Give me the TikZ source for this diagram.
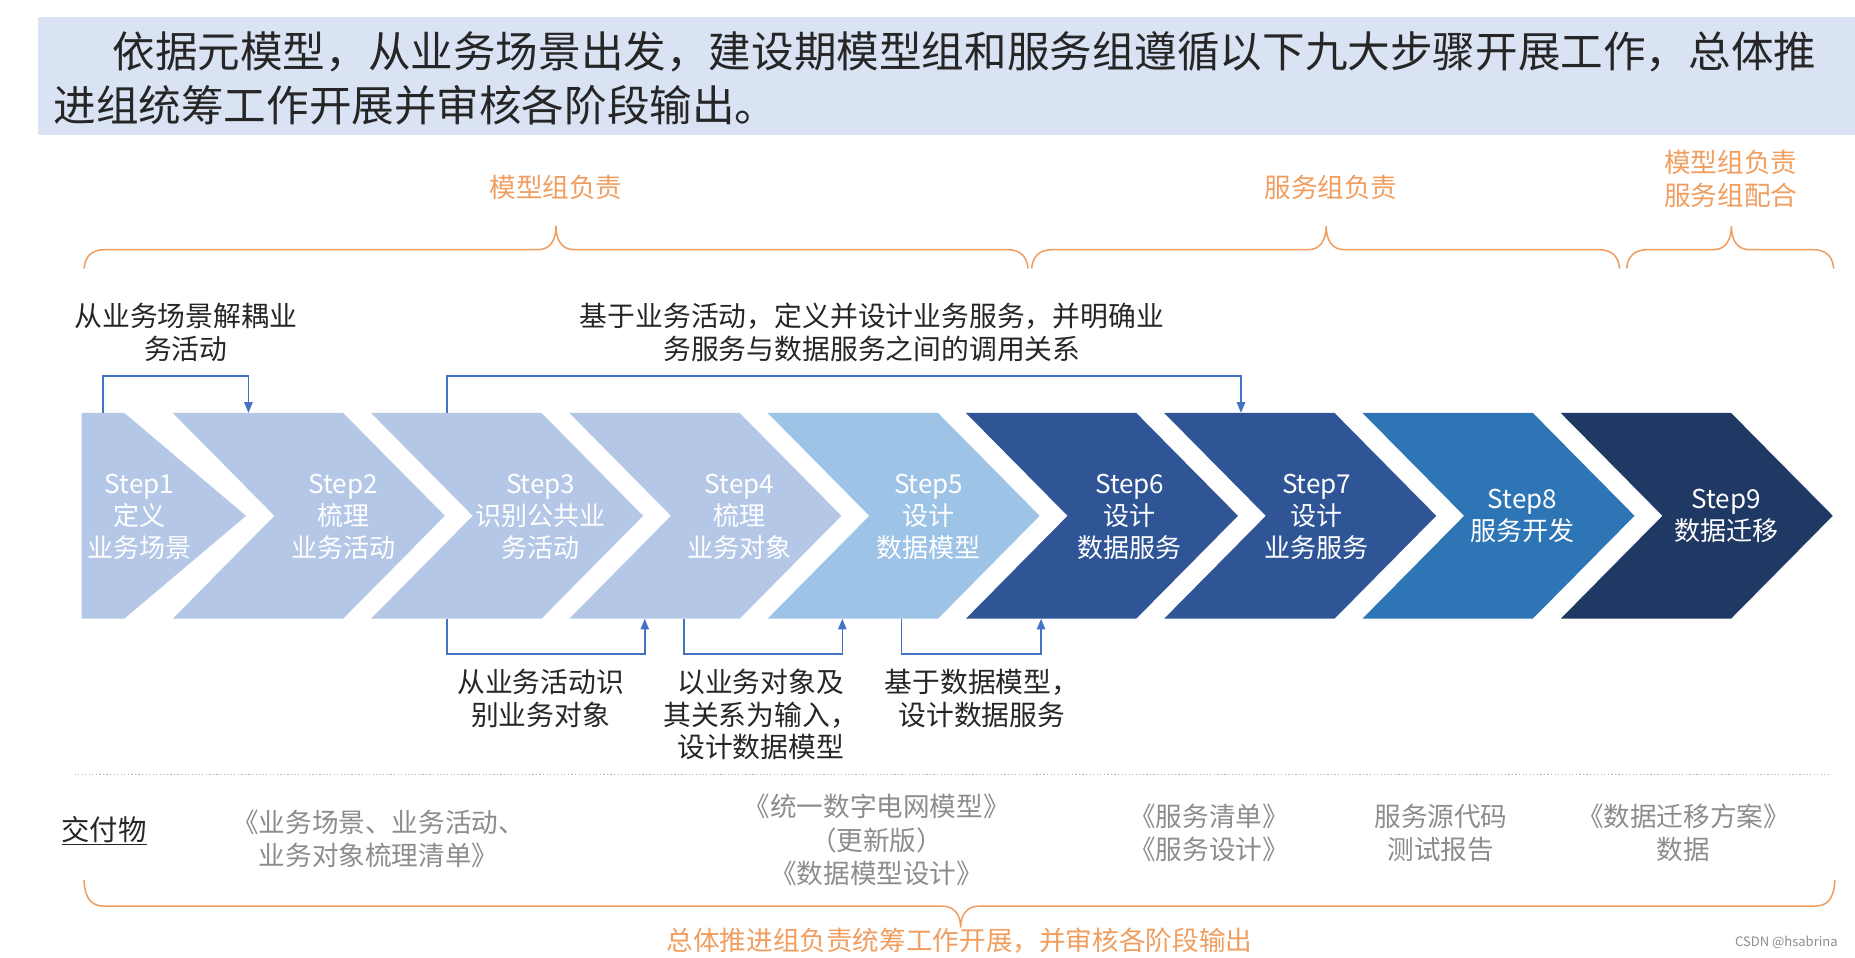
\documentclass[tikz,border=0pt]{standalone}
\usepackage{fontspec}
\setmainfont{Noto Sans CJK SC}
\usetikzlibrary{arrows.meta}
\definecolor{bannerC}{HTML}{DAE3F3}
\definecolor{orangeT}{RGB}{240,158,96}
\definecolor{connC}{HTML}{4472C4}
\definecolor{lightA}{HTML}{B4C7E7}
\definecolor{lightB}{HTML}{9DC3E6}
\definecolor{darkA}{HTML}{2F5597}
\definecolor{midB}{HTML}{2E75B6}
\definecolor{darkB}{HTML}{203864}
\definecolor{delivT}{HTML}{8C8C8C}
\definecolor{labelT}{HTML}{262626}
\newcommand{\mychev}[2]{\fill[#2] (#1,349) -- ++(144,0) -- ++(86,87) -- ++(-86,87) -- ++(-144,0) -- ++(86,-87) -- cycle;}
% x1 x2 xtip yend yline ytip
\newcommand{\topbrace}[6]{\draw[bracel] (#1,#4) .. controls (#1+1,#5+6) and (#1+6,#5) .. (#1+18,#5) -- (#3-15,#5) .. controls (#3-5,#5) and (#3,#5-8) .. (#3,#6) .. controls (#3,#5-8) and (#3+5,#5) .. (#3+15,#5) -- (#2-18,#5) .. controls (#2-6,#5) and (#2-1,#5+6) .. (#2,#4);}
\newcommand{\botbrace}[6]{\draw[bracel] (#1,#4) .. controls (#1+1,#5-6) and (#1+6,#5) .. (#1+18,#5) -- (#3-15,#5) .. controls (#3-5,#5) and (#3,#5+8) .. (#3,#6) .. controls (#3,#5+8) and (#3+5,#5) .. (#3+15,#5) -- (#2-18,#5) .. controls (#2-6,#5) and (#2-1,#5-6) .. (#2,#4);}
\begin{document}
\begin{tikzpicture}[x=1pt,y=-1pt,
  steptxt/.style={text=white,align=center,font=\fontsize{22}{27}\selectfont,inner sep=0pt},
  lbl/.style={text=labelT,align=center,font=\fontsize{23.5}{27.5}\selectfont,inner sep=0pt},
  deliv/.style={text=delivT,align=center,font=\fontsize{22.5}{28.5}\selectfont,inner sep=0pt},
  orng/.style={text=orangeT,align=center,font=\fontsize{22.5}{28}\selectfont,inner sep=0pt},
  head/.style={text=labelT,anchor=west,font=\fontsize{36}{45}\selectfont,inner sep=0pt},
  bracel/.style={draw=orangeT,line width=1.3pt},
  conline/.style={draw=connC,line width=1.3pt},
  conarrow/.style={conline,-{Triangle[length=9pt,width=7pt]}},
]
\useasboundingbox (0,0) rectangle (1568,809);
% banner
\fill[bannerC] (32,14) rectangle (1568,114);
\node[head] (h1) at (95,44) {依据元模型，从业务场景出发，建设期模型组和服务组遵循以下九大步骤开展工作，总体推};
\node[head] (h2) at (45,89) {进组统筹工作开展并审核各阶段输出。};
% orange headings
\node[orng] (o1) at (470,158) {模型组负责};
\node[orng] (o2) at (1125,158) {服务组负责};
\node[orng] (o3) at (1463,151) {模型组负责\\服务组配合};
% top braces
\topbrace{71}{869}{470}{227}{211}{191}
\topbrace{872}{1369}{1121}{227}{211}{191}
\topbrace{1375}{1550}{1463.5}{227}{211}{191}
% chevrons
\fill[lightA] (69,349) -- (105,349) -- (208,436) -- (105,523) -- (69,523) -- cycle;
\mychev{146}{lightA}
\mychev{313.6}{lightA}
\mychev{481.2}{lightA}
\mychev{648.8}{lightB}
\mychev{816.4}{darkA}
\mychev{984}{darkA}
\mychev{1151.6}{midB}
\mychev{1319.2}{darkB}
\node[steptxt] (s1) at (118,437) {Step1\\定义\\业务场景};
\node[steptxt] (s2) at (290,437) {Step2\\梳理\\业务活动};
\node[steptxt] (s3) at (457,437) {Step3\\识别公共业\\务活动};
\node[steptxt] (s4) at (625,437) {Step4\\梳理\\业务对象};
\node[steptxt] (s5) at (785,437) {Step5\\设计\\数据模型};
\node[steptxt] (s6) at (955,437) {Step6\\设计\\数据服务};
\node[steptxt] (s7) at (1113,437) {Step7\\设计\\业务服务};
\node[steptxt] (s8) at (1287,436) {Step8\\服务开发};
\node[steptxt] (s9) at (1459,436) {Step9\\数据迁移};
% connector end points on the chevrons
\coordinate (a1) at (87,349);
\coordinate (a2) at (210,349);
\coordinate (b1) at (378,349);
\coordinate (b2) at (1049,349);
\coordinate (c1) at (378,523);
\coordinate (c2) at (545,523);
\coordinate (d1) at (578,523);
\coordinate (d2) at (712,523);
\coordinate (e1) at (762,523);
\coordinate (e2) at (880,523);
\draw[conarrow] (a1) -- ++(0,-31) -| (a2);
\draw[conarrow] (b1) -- ++(0,-31) -| (b2);
\draw[conarrow] (c1) -- ++(0,30) -| (c2);
\draw[conarrow] (d1) -- ++(0,30) -| (d2);
\draw[conarrow] (e1) -- ++(0,30) -| (e2);
% labels
\node[lbl] (t1) at (157,281) {从业务场景解耦业\\务活动};
\node[lbl] (t2) at (737,281) {基于业务活动，定义并设计业务服务，并明确业\\务服务与数据服务之间的调用关系};
\node[lbl] (u1) at (457,590.5) {从业务活动识\\别业务对象};
\node[lbl] (u2) at (643,604) {以业务对象及\\其关系为输入，\\设计数据模型};
\node[lbl] (u3) at (830,590.5) {基于数据模型，\\设计数据服务};
% separator
\draw[draw=black!30,line width=1pt,dash pattern=on 1pt off 2pt] (63,655) -- (1548,655);
% deliverables
\node[lbl,font=\fontsize{24}{28}\selectfont] (k0) at (88,702) {\underline{交付物}};
\node[deliv] (k1) at (320,709) {《业务场景、业务活动、\\业务对象梳理清单》};
\node[deliv] (k2) at (741,710) {《统一数字电网模型》\\（更新版）\\《数据模型设计》};
\node[deliv] (k3) at (1022,704) {《服务清单》\\《服务设计》};
\node[deliv] (k4) at (1218,704) {服务源代码\\测试报告};
\node[deliv] (k5) at (1423,704) {《数据迁移方案》\\数据};
% bottom brace
\botbrace{71}{1551}{812}{744}{766}{784}
\node[orng] (o4) at (811,795) {总体推进组负责统筹工作开展，并审核各阶段输出};
\node[text=black!45,font=\fontsize{11}{13}\selectfont,inner sep=0pt] (wm) at (1510,797) {CSDN @hsabrina};
\end{tikzpicture}
\end{document}
